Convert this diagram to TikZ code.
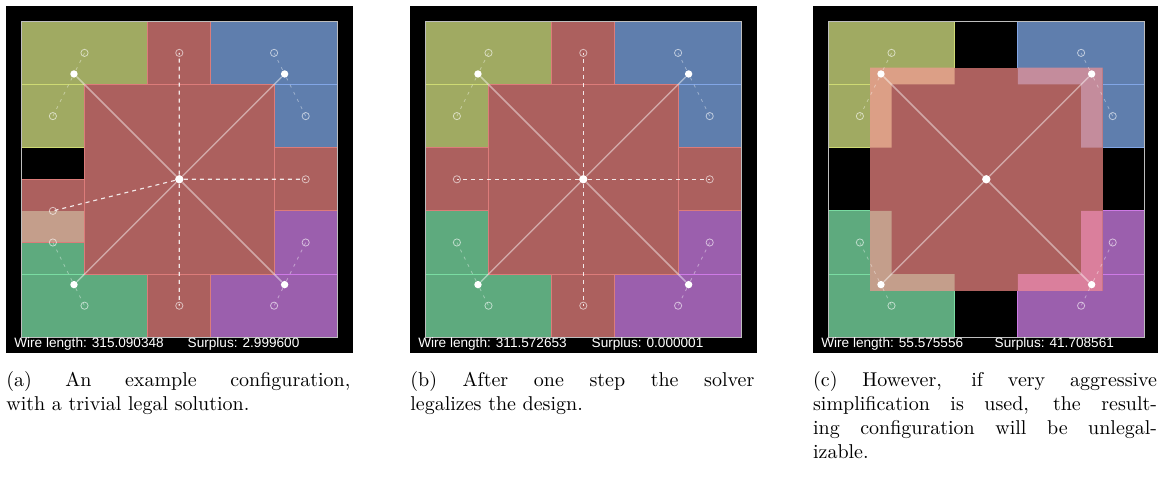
\documentclass[tikz,border=0pt]{standalone}
\usepackage{fontspec}
\newfontfamily\guifont{Liberation Sans}
\definecolor{cellred}{HTML}{AC605E}
\definecolor{edgered}{HTML}{DC7C7A}
\definecolor{cellolive}{HTML}{A0AA62}
\definecolor{edgeolive}{HTML}{CEDA74}
\definecolor{cellblue}{HTML}{5F7EAD}
\definecolor{edgeblue}{HTML}{82A6E6}
\definecolor{cellgreen}{HTML}{5EAA7E}
\definecolor{edgegreen}{HTML}{7ADCA2}
\definecolor{cellpurple}{HTML}{9B5FAD}
\definecolor{edgepurple}{HTML}{CE7AE6}
\definecolor{mixtan}{HTML}{C49E8B}
\definecolor{mixpeach}{HTML}{DC9F86}
\definecolor{mixmauve}{HTML}{C48C9C}
\definecolor{mixpink}{HTML}{DA7F9C}
\definecolor{framegray}{HTML}{BEBEBE}

\begin{document}
\begin{tikzpicture}[x=0.5pt,y=-0.5pt,
  olivecell/.style={fill=cellolive,draw=edgeolive,line width=0.5pt},
  bluecell/.style={fill=cellblue,draw=edgeblue,line width=0.5pt},
  greencell/.style={fill=cellgreen,draw=edgegreen,line width=0.5pt},
  purplecell/.style={fill=cellpurple,draw=edgepurple,line width=0.5pt},
  redcell/.style={fill=cellred,draw=edgered,line width=0.5pt},
  gridframe/.style={draw=framegray,line width=0.5pt},
  celldot/.style={circle,fill=white,inner sep=0pt,minimum size=3.7pt},
  hubdot/.style={celldot,minimum size=4.2pt},
  pinring/.style={circle,draw=white,draw opacity=0.6,line width=0.4pt,inner sep=0pt,minimum size=3.6pt},
  wire/.style={draw=white,draw opacity=0.45,line width=0.75pt},
  net/.style={draw=white,draw opacity=0.85,line width=0.6pt,dash pattern=on 2pt off 2pt},
  subnet/.style={draw=white,draw opacity=0.4,line width=0.4pt,dash pattern=on 1.5pt off 2.5pt},
  info/.style={font=\guifont\fontsize{6.8}{8}\selectfont,text=white,inner sep=0pt,anchor=base west},
  subcap/.style={font=\fontsize{10}{12}\selectfont,text width=172pt,align=justify,inner sep=0pt,anchor=base west}]
  \useasboundingbox (0,0) rectangle (1158,480);

  % --- (a) example configuration ---
  \begin{scope}[shift={(21.3,21.3)},x=15.8pt,y=-15.8pt]
    \fill[black] (-0.484,-0.484) rectangle (10.484,10.5);
    \path[olivecell] (0,0) rectangle (4,2) (0,2) rectangle (2,4);
    \path[bluecell] (6,0) rectangle (10,2) (8,2) rectangle (10,4);
    \path[greencell] (0,6) rectangle (2,8) (0,8) rectangle (4,10);
    \path[purplecell] (8,6) rectangle (10,8) (6,8) rectangle (10,10);
    \path[redcell] (4,0) rectangle (6,2) (4,8) rectangle (6,10) (8,4) rectangle (10,6) (0,5) rectangle (2,7);
    \fill[mixtan] (0,6) rectangle (2,7);
    \path[redcell] (2,2) rectangle (8,8);
    \draw[gridframe] (0,0) rectangle (10,10);
    % cells and pins
    \node[hubdot] (a-hub) at (5,5) {};
    \node[celldot] (a-ol) at (1.667,1.667) {};
    \node[pinring] (a-ol1) at (2,1) {};
    \node[pinring] (a-ol2) at (1,3) {};
    \node[celldot] (a-bl) at (8.333,1.667) {};
    \node[pinring] (a-bl1) at (8,1) {};
    \node[pinring] (a-bl2) at (9,3) {};
    \node[celldot] (a-gr) at (1.667,8.333) {};
    \node[pinring] (a-gr1) at (1,7) {};
    \node[pinring] (a-gr2) at (2,9) {};
    \node[celldot] (a-pu) at (8.333,8.333) {};
    \node[pinring] (a-pu1) at (9,7) {};
    \node[pinring] (a-pu2) at (8,9) {};
    \node[pinring] (a-top) at (5,1) {};
    \node[pinring] (a-bot) at (5,9) {};
    \node[pinring] (a-rt) at (9,5) {};
    \node[pinring] (a-lf) at (1,6) {};
    % nets
    \draw[subnet] (a-ol1.center) -- (a-ol) -- (a-ol2.center);
    \draw[subnet] (a-bl1.center) -- (a-bl) -- (a-bl2.center);
    \draw[subnet] (a-gr1.center) -- (a-gr) -- (a-gr2.center);
    \draw[subnet] (a-pu1.center) -- (a-pu) -- (a-pu2.center);
    \draw[wire] (a-hub) -- (a-ol) (a-hub) -- (a-bl) (a-hub) -- (a-gr) (a-hub) -- (a-pu);
    \draw[net] (a-hub) -- (a-top.center) (a-hub) -- (a-bot.center) (a-hub) -- (a-rt.center) (a-hub) -- (a-lf.center);
    \node[info] (a-wl) at (-0.234,10.316) {Wire length: 315.090348};
    \node[info] (a-sp) at (5.253,10.316) {Surplus: 2.999600};
  \end{scope}

  % --- (b) after one step ---
  \begin{scope}[shift={(425.3,21.3)},x=15.8pt,y=-15.8pt]
    \fill[black] (-0.484,-0.484) rectangle (10.484,10.5);
    \path[olivecell] (0,0) rectangle (4,2) (0,2) rectangle (2,4);
    \path[bluecell] (6,0) rectangle (10,2) (8,2) rectangle (10,4);
    \path[greencell] (0,6) rectangle (2,8) (0,8) rectangle (4,10);
    \path[purplecell] (8,6) rectangle (10,8) (6,8) rectangle (10,10);
    \path[redcell] (4,0) rectangle (6,2) (4,8) rectangle (6,10) (8,4) rectangle (10,6) (0,4) rectangle (2,6);
    \path[redcell] (2,2) rectangle (8,8);
    \draw[gridframe] (0,0) rectangle (10,10);
    % cells and pins
    \node[hubdot] (b-hub) at (5,5) {};
    \node[celldot] (b-ol) at (1.667,1.667) {};
    \node[pinring] (b-ol1) at (2,1) {};
    \node[pinring] (b-ol2) at (1,3) {};
    \node[celldot] (b-bl) at (8.333,1.667) {};
    \node[pinring] (b-bl1) at (8,1) {};
    \node[pinring] (b-bl2) at (9,3) {};
    \node[celldot] (b-gr) at (1.667,8.333) {};
    \node[pinring] (b-gr1) at (1,7) {};
    \node[pinring] (b-gr2) at (2,9) {};
    \node[celldot] (b-pu) at (8.333,8.333) {};
    \node[pinring] (b-pu1) at (9,7) {};
    \node[pinring] (b-pu2) at (8,9) {};
    \node[pinring] (b-top) at (5,1) {};
    \node[pinring] (b-bot) at (5,9) {};
    \node[pinring] (b-rt) at (9,5) {};
    \node[pinring] (b-lf) at (1,5) {};
    % nets
    \draw[subnet] (b-ol1.center) -- (b-ol) -- (b-ol2.center);
    \draw[subnet] (b-bl1.center) -- (b-bl) -- (b-bl2.center);
    \draw[subnet] (b-gr1.center) -- (b-gr) -- (b-gr2.center);
    \draw[subnet] (b-pu1.center) -- (b-pu) -- (b-pu2.center);
    \draw[wire] (b-hub) -- (b-ol) (b-hub) -- (b-bl) (b-hub) -- (b-gr) (b-hub) -- (b-pu);
    \draw[net] (b-hub) -- (b-top.center) (b-hub) -- (b-bot.center) (b-hub) -- (b-rt.center) (b-hub) -- (b-lf.center);
    \node[info] (b-wl) at (-0.234,10.316) {Wire length: 311.572653};
    \node[info] (b-sp) at (5.253,10.316) {Surplus: 0.000001};
  \end{scope}

  % --- (c) aggressive simplification ---
  \begin{scope}[shift={(828.3,21.3)},x=15.8pt,y=-15.8pt]
    \fill[black] (-0.484,-0.484) rectangle (10.43,10.5);
    \path[olivecell] (0,0) rectangle (4,2) (0,2) rectangle (2,4);
    \path[bluecell] (6,0) rectangle (10,2) (8,2) rectangle (10,4);
    \path[greencell] (0,6) rectangle (2,8) (0,8) rectangle (4,10);
    \path[purplecell] (8,6) rectangle (10,8) (6,8) rectangle (10,10);
    \fill[cellred] (1.32,1.47) rectangle (8.68,8.53);
    \fill[mixpeach] (1.32,1.47) rectangle (4,2) (1.32,2) rectangle (2,4);
    \fill[mixmauve] (6,1.47) rectangle (8.68,2) (8,2) rectangle (8.68,4);
    \fill[mixtan] (1.32,6) rectangle (2,8) (1.32,8) rectangle (4,8.53);
    \fill[mixpink] (8,6) rectangle (8.68,8) (6,8) rectangle (8.68,8.53);
    \draw[gridframe] (0,0) rectangle (10,10);
    % cells and pins
    \node[hubdot] (c-hub) at (5,5) {};
    \node[celldot] (c-ol) at (1.667,1.667) {};
    \node[pinring] (c-ol1) at (2,1) {};
    \node[pinring] (c-ol2) at (1,3) {};
    \node[celldot] (c-bl) at (8.333,1.667) {};
    \node[pinring] (c-bl1) at (8,1) {};
    \node[pinring] (c-bl2) at (9,3) {};
    \node[celldot] (c-gr) at (1.667,8.333) {};
    \node[pinring] (c-gr1) at (1,7) {};
    \node[pinring] (c-gr2) at (2,9) {};
    \node[celldot] (c-pu) at (8.333,8.333) {};
    \node[pinring] (c-pu1) at (9,7) {};
    \node[pinring] (c-pu2) at (8,9) {};
    % nets
    \draw[subnet] (c-ol1.center) -- (c-ol) -- (c-ol2.center);
    \draw[subnet] (c-bl1.center) -- (c-bl) -- (c-bl2.center);
    \draw[subnet] (c-gr1.center) -- (c-gr) -- (c-gr2.center);
    \draw[subnet] (c-pu1.center) -- (c-pu) -- (c-pu2.center);
    \draw[wire] (c-hub) -- (c-ol) (c-hub) -- (c-bl) (c-hub) -- (c-gr) (c-hub) -- (c-pu);
    \node[info] (c-wl) at (-0.234,10.316) {Wire length: 55.575556};
    \node[info] (c-sp) at (5.253,10.316) {Surplus: 41.708561};
  \end{scope}

  % --- captions ---
  \node[subcap] (cap-a) at (6,387) {(a) An example configuration,\linebreak with a trivial legal solution.};
  \node[subcap] (cap-b) at (410,387) {(b) After one step the solver\linebreak legalizes the design.};
  \node[subcap] (cap-c) at (812.7,387) {(c) However, if very aggressive\linebreak simplification is used, the result-\linebreak ing configuration will be unlegal-\linebreak izable.};
\end{tikzpicture}
\end{document}
